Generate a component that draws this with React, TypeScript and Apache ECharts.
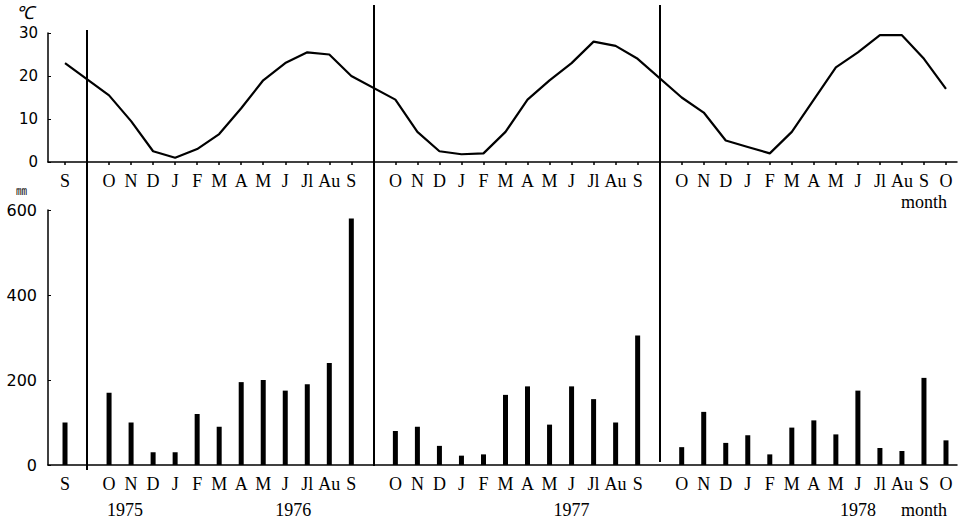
import React, { useEffect, useRef } from "react";
import * as echarts from "echarts";

// 41 slots: S(1975) | O..S (1975-76) | O..S (1976-77) | O..O (1977-78); '' = divider gap
const monthLabels = [
  "S", "",
  "O", "N", "D", "J", "F", "M", "A", "M", "J", "Jl", "Au", "S", "",
  "O", "N", "D", "J", "F", "M", "A", "M", "J", "Jl", "Au", "S", "",
  "O", "N", "D", "J", "F", "M", "A", "M", "J", "Jl", "Au", "S", "O",
];

// Monthly mean temperature (°C)
const temperature = [
  23, null,
  15.5, 9.5, 2.5, 1, 3, 6.5, 12.5, 19, 23, 25.5, 25, 20, null,
  14.5, 7, 2.5, 1.8, 2, 7, 14.5, 19, 23, 28, 27, 24, null,
  15, 11.5, 5, 3.5, 2, 7, 14.5, 22, 25.5, 29.5, 29.5, 24, 17,
];

// Monthly precipitation (mm)
const precipitation = [
  100, null,
  170, 100, 30, 30, 120, 90, 195, 200, 175, 190, 240, 580, null,
  80, 90, 45, 22, 25, 165, 185, 95, 185, 155, 100, 305, null,
  42, 125, 52, 70, 25, 88, 105, 72, 175, 40, 33, 205, 58,
];

// Second-row labels under the lower axis
const yearLabels = [
  "", "",
  "", "1975", "", "", "", "", "", "", "1976", "", "", "", "",
  "", "", "", "", "", "", "", "", "1977", "", "", "", "",
  "", "", "", "", "", "", "", "", "1978", "", "", "month", "",
];

// Second-row labels under the upper axis
const topNotes = [
  "", "",
  "", "", "", "", "", "", "", "", "", "", "", "", "",
  "", "", "", "", "", "", "", "", "", "", "", "", "",
  "", "", "", "", "", "", "", "", "", "", "", "month", "",
];

const tempTicks = { min: 0, max: 30, interval: 10 };
const precipTicks = { min: 0, max: 600, interval: 200 };

// gap slots where the year dividers are drawn
const dividerSlots = [1, 14, 27];

export default function App() {
  const ref = useRef<HTMLDivElement>(null);

  useEffect(() => {
    if (!ref.current) return;
    const chart = echarts.init(ref.current, undefined, { renderer: "svg" });

    const serif = "Liberation Serif";
    const sans = "DejaVu Sans";
    const black = "#000";

    const TOP = { top: 33, height: 129 };
    const BOT = { top: 210, height: 255 };
    const dividerSpans = [
      [30, 470],
      [5, 466],
      [5, 462],
    ];

    const hiddenAxis = { show: false };

    const noteAxis = (gridIndex: number, labels: string[], offset: number, margin: number) => ({
      gridIndex,
      type: "category",
      data: monthLabels,
      position: "bottom",
      offset,
      axisLine: { show: false },
      axisTick: { show: false },
      splitLine: { show: false },
      axisLabel: {
        interval: 0,
        margin,
        color: black,
        fontFamily: serif,
        fontSize: 18,
        lineHeight: 18,
        formatter: (_v: string, i: number) => {
          const t = labels[i];
          if (!t) return "";
          const style = i === 3 ? "yl" : i === 10 ? "yr" : "y";
          return `{${style}|${t}}`;
        },
        rich: {
          y: { fontFamily: serif, fontSize: 18, lineHeight: 18, color: black },
          yl: { fontFamily: serif, fontSize: 18, lineHeight: 18, color: black, padding: [0, 12, 0, 0] },
          yr: { fontFamily: serif, fontSize: 18, lineHeight: 18, color: black, padding: [0, 0, 0, 16] },
        },
      },
    });

    const option: any = {
      animation: false,
      backgroundColor: "#fff",
      grid: [
        { left: 48, right: 1, ...TOP }, // 0 top axes
        { left: 54, right: 1, ...TOP }, // 1 top data
        { left: 48, right: 1, ...BOT }, // 2 bottom axes
        { left: 54, right: 1, ...BOT }, // 3 bottom data
        { left: 54, right: 1, top: 0, bottom: 0 }, // 4 overlay
      ],
      xAxis: [
        {
          gridIndex: 0,
          type: "value",
          min: 0,
          max: 1,
          axisLine: { show: true, lineStyle: { color: black, width: 1.5 } },
          axisTick: { show: false },
          axisLabel: { show: false },
          splitLine: { show: false },
        },
        {
          gridIndex: 1,
          type: "category",
          data: monthLabels,
          axisLine: { show: false },
          axisTick: {
            show: true,
            alignWithLabel: true,
            interval: (i: number) => monthLabels[i] !== "",
            length: 3,
            lineStyle: { color: black, width: 1.5 },
          },
          axisLabel: {
            interval: 0,
            margin: 10,
            color: black,
            fontFamily: serif,
            fontSize: 18,
            lineHeight: 18,
          },
          splitLine: { show: false },
        },
        {
          gridIndex: 2,
          type: "value",
          min: 0,
          max: 1,
          axisLine: { show: true, lineStyle: { color: black, width: 1.5 } },
          axisTick: { show: false },
          axisLabel: { show: false },
          splitLine: { show: false },
        },
        {
          gridIndex: 3,
          type: "category",
          data: monthLabels,
          axisLine: { show: false },
          axisTick: { show: false },
          axisLabel: {
            interval: 0,
            margin: 10,
            color: black,
            fontFamily: serif,
            fontSize: 18,
            lineHeight: 18,
          },
          splitLine: { show: false },
        },
        {
          gridIndex: 4,
          type: "value",
          min: -0.5,
          max: monthLabels.length - 0.5,
          ...hiddenAxis,
        },
        noteAxis(1, topNotes, 21, 10),
        noteAxis(3, yearLabels, 26, 10),
      ],
      yAxis: [
        {
          gridIndex: 0,
          type: "value",
          ...tempTicks,
          name: "℃",
          nameLocation: "end",
          nameGap: 11,
          nameTextStyle: {
            color: black,
            fontFamily: serif,
            fontSize: 18,
            fontStyle: "italic",
            align: "right",
            padding: [0, 14, 0, 0],
          },
          axisLine: { show: true, lineStyle: { color: black, width: 1.5 } },
          axisTick: { show: true, inside: true, length: 3, lineStyle: { color: black } },
          axisLabel: { color: black, fontFamily: sans, fontSize: 15, margin: 10 },
          splitLine: { show: false },
        },
        { gridIndex: 1, type: "value", ...tempTicks, ...hiddenAxis },
        {
          gridIndex: 2,
          type: "value",
          ...precipTicks,
          name: "㎜",
          nameLocation: "end",
          nameGap: 15,
          nameTextStyle: {
            color: black,
            fontFamily: "Noto Sans CJK JP",
            fontSize: 11,
            align: "right",
            padding: [0, 21, 0, 0],
          },
          axisLine: { show: true, lineStyle: { color: black, width: 1.5 } },
          axisTick: { show: true, inside: true, length: 3, lineStyle: { color: black } },
          axisLabel: { color: black, fontFamily: sans, fontSize: 16, margin: 11 },
          splitLine: { show: false },
        },
        { gridIndex: 3, type: "value", ...precipTicks, ...hiddenAxis },
        { gridIndex: 4, type: "value", min: 0, max: 527, inverse: true, ...hiddenAxis },
      ],
      series: [
        {
          type: "line",
          name: "temperature",
          xAxisIndex: 1,
          yAxisIndex: 1,
          data: temperature,
          connectNulls: true,
          showSymbol: false,
          symbol: "none",
          lineStyle: { color: black, width: 2.2 },
          silent: true,
        },
        {
          type: "bar",
          name: "precipitation",
          xAxisIndex: 3,
          yAxisIndex: 3,
          data: precipitation,
          barWidth: 5,
          itemStyle: { color: black },
          silent: true,
        },
        {
          type: "line",
          name: "dividers",
          xAxisIndex: 4,
          yAxisIndex: 4,
          data: [],
          silent: true,
          markLine: {
            silent: true,
            symbol: "none",
            label: { show: false },
            lineStyle: { color: black, width: 2, type: "solid" },
            data: dividerSlots.map((s, k) => [
              { coord: [s, dividerSpans[k][0]] },
              { coord: [s, dividerSpans[k][1]] },
            ]),
          },
        },
      ],
    };

    chart.setOption(option);
    return () => chart.dispose();
  }, []);

  return (
    <div
      ref={ref}
      style={{ position: "absolute", left: 0, top: 0, width: 958, height: 527, background: "#fff" }}
    />
  );
}
